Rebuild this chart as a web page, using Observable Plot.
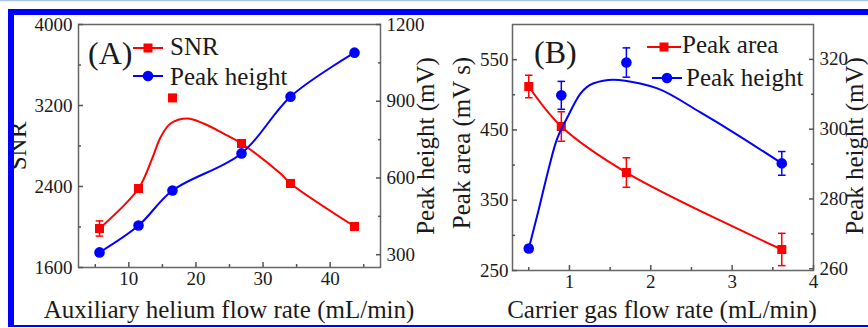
<!DOCTYPE html>
<html><head><meta charset="utf-8">
<script src="https://cdn.jsdelivr.net/npm/d3@7"></script>
<script src="https://cdn.jsdelivr.net/npm/@observablehq/plot@0.6"></script>
<style>
html,body{margin:0;padding:0;background:#fff;}
#wrap{position:relative;width:868px;height:328px;overflow:hidden;background:#fff;}
#wrap svg{position:absolute;}
</style></head><body>
<div id="wrap"></div>
<script>
// ---------- Panel A data ----------
const auxFlow = [5.63, 11.44, 16.5, 26.79, 34.09, 43.63];
const snr = [1985, 2380, 3275, 2825, 2430, 2005];
const snrErr = [75, 0, 0, 0, 0, 0];
const peakHeightA = [309, 414, 551, 696, 918, 1090];
// fitted SNR curve
const snrFitX = [5.63, 11.44, 13.53, 14.72, 16.21, 18.74, 21.13, 24.11, 26.79, 32.6, 34.09, 43.63];
const snrFitY = [1985, 2380, 2686, 2884, 3022, 3072, 3022, 2923, 2825, 2528, 2430, 2005];
const auxTicks = [10, 20, 30, 40];
const auxMinor = [5, 15, 25, 35, 45];
const snrTicks = [1600, 2400, 3200, 4000];
const snrMinor = [2000, 2800, 3600];
const heightATicks = [300, 600, 900, 1200];
const heightAMinor = [450, 750, 1050];

// ---------- Panel B data ----------
const carrierFlow = [0.5, 0.9, 1.7, 3.61];
const peakArea = [511.8, 454.9, 389.4, 279.9];
const peakAreaErr = [16, 21, 21, 23];
const peakHeightB = [265.8, 309.7, 319.1, 290.2];
const peakHeightBErr = [0.9, 4.0, 4.2, 3.4];
// fitted peak-height curve
const heightFitX = [0.5, 0.61, 0.73, 0.83, 0.975, 1.135, 1.29, 1.54, 1.87, 2.08, 2.61, 2.98, 3.61];
const heightFitY = [265.8, 275.8, 287.3, 296.0, 303.4, 310.2, 313.1, 314.2, 313.1, 311.7, 304.8, 299.6, 290.2];
const carrierTicks = [1, 2, 3, 4];
const carrierMinor = [0.5, 1.5, 2.5, 3.5];
const areaTicks = [250, 350, 450, 550];
const areaMinor = [300, 400, 500];
const heightBTicks = [260, 280, 300, 320];
const heightBMinor = [270, 290, 310];

// ---------- styling ----------
const FONT = "'Liberation Serif','Times New Roman',serif";
const RED = "#ff0000", BLUE = "#0000ff", AX = "#555";
const fmt = d => String(d);
const cap = { draw(ctx, size) { const l = Math.sqrt(size / Math.PI); ctx.moveTo(-l, 0); ctx.lineTo(l, 0); } };

function base(mL, mR, mB, xDom, yDom) {
  return {
    width: 434, height: 328, marginTop: 24, marginLeft: mL, marginRight: mR, marginBottom: mB,
    x: {domain: xDom, axis: null}, y: {domain: yDom, axis: null},
    style: {background: "transparent", fontFamily: FONT, fontSize: "19px", color: "#1a1a1a", overflow: "visible"}
  };
}
function yAxis(anchor, ticks, minor, pad) {
  const s = anchor === "left" ? 1 : -1;
  return [
    Plot.axisY(ticks, {anchor, tickSize: 5, dx: 5 * s, fill: "none", stroke: AX, strokeWidth: 1.5, label: null}),
    Plot.axisY(minor, {anchor, tickSize: 3, dx: 3 * s, fill: "none", stroke: AX, strokeWidth: 1.5, label: null}),
    Plot.axisY(ticks, {anchor, tickSize: 0, tickPadding: pad, tickFormat: fmt, label: null})
  ];
}
function xAxis(ticks, minor) {
  return [
    Plot.axisX(ticks, {anchor: "bottom", tickSize: 5, dy: -5, fill: "none", stroke: AX, strokeWidth: 1.5, label: null}),
    Plot.axisX(minor, {anchor: "bottom", tickSize: 3, dy: -3, fill: "none", stroke: AX, strokeWidth: 1.5, label: null}),
    Plot.axisX(ticks, {anchor: "bottom", tickSize: 0, tickPadding: 4, tickFormat: fmt, label: null})
  ];
}
function place(svg, left) { svg.style.left = left + "px"; svg.style.top = "0px"; document.getElementById("wrap").appendChild(svg); }

// ---------- Panel A ----------
const aPts = auxFlow.map((x, i) => ({x, snr: snr[i], err: snrErr[i], h: peakHeightA[i]}));
const aFit = snrFitX.map((x, i) => ({x, y: snrFitY[i]}));
const A1 = Plot.plot({
  ...base(78, 54, 61, [2.5, 47.5], [1600, 4000]),
  marks: [
    Plot.frame({stroke: "#666", strokeWidth: 1.5}),
    ...yAxis("left", snrTicks, snrMinor, 6),
    ...xAxis(auxTicks, auxMinor),
    Plot.line(aFit, {x: "x", y: "y", curve: "catmull-rom", stroke: RED, strokeWidth: 2}),
    Plot.ruleX(aPts, {x: "x", y1: d => d.snr - d.err, y2: d => d.snr + d.err, stroke: RED, strokeWidth: 1.5}),
    Plot.dot(aPts, {x: "x", y: d => d.snr + d.err, symbol: cap, r: 3.8, stroke: RED, strokeWidth: 1.5}),
    Plot.dot(aPts, {x: "x", y: d => d.snr - d.err, symbol: cap, r: 3.8, stroke: RED, strokeWidth: 1.5}),
    Plot.dot(aPts, {x: "x", y: "snr", symbol: "square", r: 5.1, fill: RED, stroke: null})
  ]
});
place(A1, 0);
const A2 = Plot.plot({
  ...base(78, 54, 61, [2.5, 47.5], [250, 1200]),
  marks: [
    ...yAxis("right", heightATicks, heightAMinor, 6),
    Plot.line(aPts, {x: "x", y: "h", curve: "catmull-rom", stroke: BLUE, strokeWidth: 2}),
    Plot.dot(aPts, {x: "x", y: "h", symbol: "circle", r: 5.3, fill: BLUE, stroke: null})
  ]
});
place(A2, 0);

// ---------- Panel B ----------
const bPts = carrierFlow.map((x, i) => ({x, a: peakArea[i], ae: peakAreaErr[i], h: peakHeightB[i], he: peakHeightBErr[i]}));
const bFit = heightFitX.map((x, i) => ({x, y: heightFitY[i]}));
const B1 = Plot.plot({
  ...base(78, 55, 58, [0.3, 4.0], [250, 600]),
  marks: [
    Plot.frame({stroke: "#666", strokeWidth: 1.5}),
    ...yAxis("left", areaTicks, areaMinor, 4),
    ...xAxis(carrierTicks, carrierMinor),
    Plot.line(bPts, {x: "x", y: "a", curve: "catmull-rom", stroke: RED, strokeWidth: 2}),
    Plot.ruleX(bPts, {x: "x", y1: d => d.a - d.ae, y2: d => d.a + d.ae, stroke: RED, strokeWidth: 1.5}),
    Plot.dot(bPts, {x: "x", y: d => d.a + d.ae, symbol: cap, r: 3.8, stroke: RED, strokeWidth: 1.5}),
    Plot.dot(bPts, {x: "x", y: d => d.a - d.ae, symbol: cap, r: 3.8, stroke: RED, strokeWidth: 1.5}),
    Plot.dot(bPts, {x: "x", y: "a", symbol: "square", r: 5.1, fill: RED, stroke: null})
  ]
});
place(B1, 434);
const B2 = Plot.plot({
  ...base(78, 55, 58, [0.3, 4.0], [259.5, 330]),
  marks: [
    ...yAxis("right", heightBTicks, heightBMinor, 6),
    Plot.line(bFit, {x: "x", y: "y", curve: "monotone-x", stroke: BLUE, strokeWidth: 2}),
    Plot.ruleX(bPts, {x: "x", y1: d => d.h - d.he, y2: d => d.h + d.he, stroke: BLUE, strokeWidth: 1.5}),
    Plot.dot(bPts, {x: "x", y: d => d.h + d.he, symbol: cap, r: 3.8, stroke: BLUE, strokeWidth: 1.5}),
    Plot.dot(bPts, {x: "x", y: d => d.h - d.he, symbol: cap, r: 3.8, stroke: BLUE, strokeWidth: 1.5}),
    Plot.dot(bPts, {x: "x", y: "h", symbol: "circle", r: 5.3, fill: BLUE, stroke: null})
  ]
});
place(B2, 434);

// ---------- titles, legends, border ----------
const ns = "http://www.w3.org/2000/svg";
const over = document.createElementNS(ns, "svg");
over.setAttribute("width", 868); over.setAttribute("height", 328);
over.style.left = "0px"; over.style.top = "0px";
over.innerHTML = `
<g font-family="${FONT}" fill="#1a1a1a" font-size="25">
  <text x="229" y="318" text-anchor="middle">Auxiliary helium flow rate (mL/min)</text>
  <text x="662" y="318" text-anchor="middle">Carrier gas flow rate (mL/min)</text>
  <text transform="translate(26,146) rotate(-90)" text-anchor="middle">SNR</text>
  <text transform="translate(434,146) rotate(-90)" text-anchor="middle">Peak height (mV)</text>
  <text transform="translate(470,143) rotate(-90)" text-anchor="middle">Peak area (mV s)</text>
  <text transform="translate(863,146) rotate(-90)" text-anchor="middle">Peak height (mV)</text>
  <text x="88" y="64" font-size="32">(A)</text>
  <text x="534" y="63" font-size="32">(B)</text>
  <text x="170" y="55">SNR</text>
  <text x="170" y="85">Peak height</text>
  <text x="682" y="53">Peak area</text>
  <text x="686" y="86">Peak height</text>
</g>
<g stroke-width="2">
  <line x1="133" x2="163" y1="48" y2="48" stroke="${RED}"/>
  <rect x="143.5" y="43.5" width="9" height="9" fill="${RED}"/>
  <line x1="133" x2="163" y1="76" y2="76" stroke="${BLUE}"/>
  <circle cx="148" cy="76" r="5.3" fill="${BLUE}"/>
  <line x1="647" x2="681" y1="47" y2="47" stroke="${RED}"/>
  <rect x="659.5" y="42.5" width="9" height="9" fill="${RED}"/>
  <line x1="652" x2="682" y1="78" y2="78" stroke="${BLUE}"/>
  <circle cx="667" cy="78" r="5.3" fill="${BLUE}"/>
</g>
<rect x="0" y="0" width="868" height="1.2" fill="#a9c6e8"/>
<rect x="8" y="9" width="860" height="6" fill="#0000ff"/>
<rect x="8" y="9" width="6" height="318" fill="#0000ff"/>
<rect x="8" y="325" width="860" height="2" fill="#0000ff"/>
`;
document.getElementById("wrap").appendChild(over);
</script>
</body></html>
